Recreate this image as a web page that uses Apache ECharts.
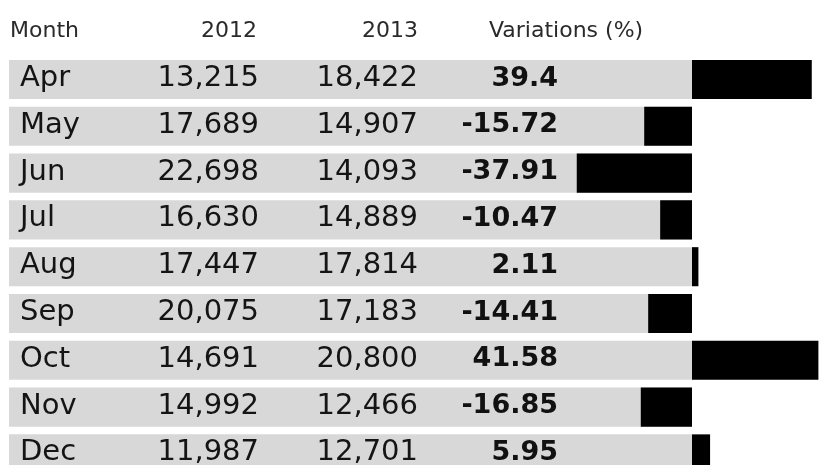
<!DOCTYPE html>
<html><head><meta charset="utf-8">
<script src="https://cdn.jsdelivr.net/npm/echarts@6/dist/echarts.min.js"></script>
<style>html,body{margin:0;padding:0;background:#fff;overflow:hidden}#c{width:826px;height:480px}</style>
</head><body><div id="c"></div>
<script>
const months = ['Apr','May','Jun','Jul','Aug','Sep','Oct','Nov','Dec'];
const values2012 = [13215,17689,22698,16630,17447,20075,14691,14992,11987];
const values2013 = [18422,14907,14093,14889,17814,17183,20800,12466,12701];
const variations = [39.4,-15.72,-37.91,-10.47,2.11,-14.41,41.58,-16.85,5.95];
const headers = ['Month','2012','2013','Variations (%)'];

const fmtInt = v => v.toLocaleString('en-US');
const HF = '22px "DejaVu Sans"';
const chart = echarts.init(document.getElementById('c'));
chart.setOption({
  animation:false,
  backgroundColor:'#ffffff',
  grid:{left:8, right:0, top:56.1, height:421.2},
  xAxis:{type:'value', min:-225, max:44.08, show:false},
  yAxis:{type:'category', data:months, inverse:true, show:false},
  graphic:[
    {type:'text', left:10, top:20, style:{text:headers[0], font:HF, fill:'#2a2a2a'}},
    {type:'text', right:826-257, top:20, style:{text:headers[1], font:HF, fill:'#2a2a2a', textAlign:'right'}},
    {type:'text', right:826-418, top:20, style:{text:headers[2], font:HF, fill:'#2a2a2a', textAlign:'right'}},
    {type:'text', left:489, top:20, style:{text:headers[3], font:HF, fill:'#2a2a2a'}}
  ],
  series:[
    {
      type:'custom', z:1,
      data: months.map((m,i)=>[i]),
      renderItem:function(params, api){
        const i = api.value(0);
        const zero = api.coord([0, i]);
        const h = api.size([0,1])[1]*0.835;
        const x0 = params.coordSys.x;
        const cy = zero[1];
        const ty = cy - 1;
        return {type:'group', children:[
          {type:'rect', shape:{x:x0+1, y:cy-h/2, width:zero[0]-x0-1, height:h}, style:{fill:'#d8d8d8'}},
          {type:'text', style:{x:20, y:ty, text:months[i], font:'29px "DejaVu Sans"', fill:'#141414', textAlign:'left', textVerticalAlign:'middle'}},
          {type:'text', style:{x:259, y:ty, text:fmtInt(values2012[i]), font:'29px "DejaVu Sans"', fill:'#141414', textAlign:'right', textVerticalAlign:'middle'}},
          {type:'text', style:{x:418, y:ty, text:fmtInt(values2013[i]), font:'29px "DejaVu Sans"', fill:'#141414', textAlign:'right', textVerticalAlign:'middle'}},
          {type:'text', style:{x:558, y:ty, text:String(variations[i]), font:'bold 27px "DejaVu Sans"', fill:'#111', textAlign:'right', textVerticalAlign:'middle'}}
        ]};
      }
    },
    {
      type:'bar', z:3, data:variations, barWidth:'83.5%',
      itemStyle:{color:'#000000'}
    }
  ]
});
</script></body></html>
